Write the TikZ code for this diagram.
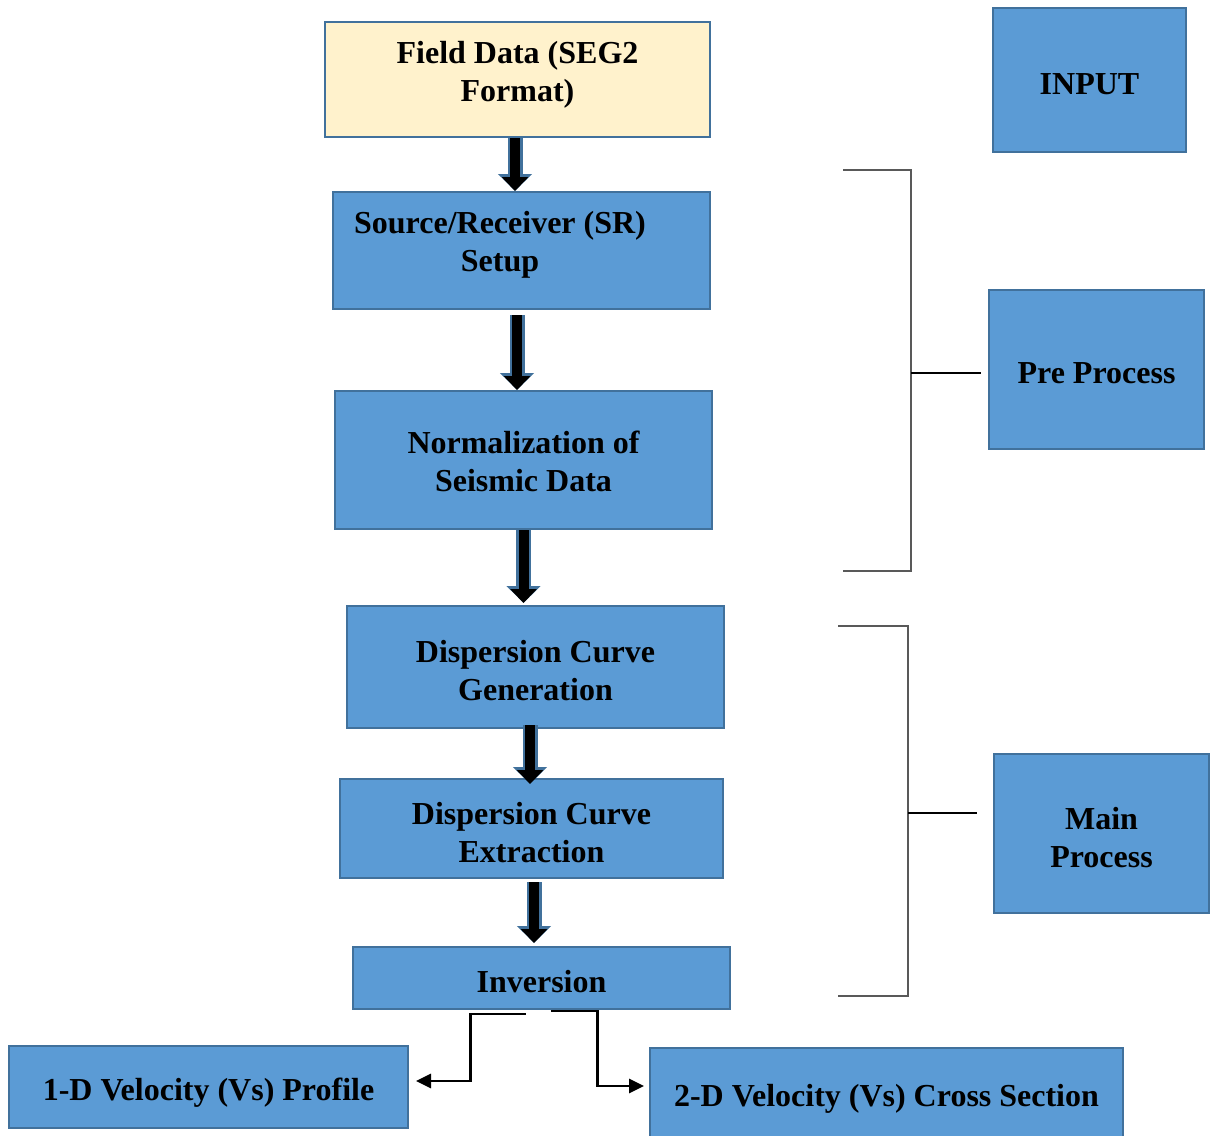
\documentclass[tikz,border=0pt]{standalone}
\usepackage{fontspec}
\setmainfont{Liberation Serif}
\definecolor{boxblue}{HTML}{5B9BD5}
\definecolor{boxline}{HTML}{41719C}
\definecolor{cream}{HTML}{FFF2CC}
\definecolor{brackgray}{HTML}{595959}
\usetikzlibrary{calc, positioning, arrows.meta}

\tikzset{
  txt/.style={font=\bfseries\fontsize{16}{19}\selectfont, align=center, text=black},
  box/.style={draw=boxline, line width=1pt, fill=boxblue, inner sep=0pt},
  lbl/.style={label={[txt, yshift=-2pt]center:{#1}}},
  blkout/.style={boxline, line width=7.5pt, -{Triangle[width=16.5pt, length=8.5pt]}},
  blkin/.style={black, line width=5pt, -{Triangle[width=13pt, length=7pt]}},
  brack/.style={brackgray, line width=0.8pt},
  tick/.style={black, line width=1.3pt},
  outarrow/.style={black, line width=1.4pt, -{Triangle[width=7pt, length=7.5pt]}}
}

\begin{document}
\begin{tikzpicture}[x=0.5pt, y=-0.5pt]
\useasboundingbox (0,0) rectangle (1213,1135);

% Flow boxes
\node[box, fill=cream, minimum width=192.5pt, minimum height=57.5pt,
  label={[txt, yshift=2.25pt]center:{Field Data (SEG2\\Format)}}] (fd) at (517.5, 79.5) {};
\node[box, minimum width=188.5pt, minimum height=58.5pt,
  label={[txt, xshift=-10.75pt, yshift=2.75pt]center:{Source/Receiver (SR)\\Setup}}] (sr) at (521.5, 250.5) {};
\node[box, minimum width=188.5pt, minimum height=69pt,
  label={[txt, yshift=-0.5pt]center:{Normalization of\\Seismic Data}}] (norm) at (523.5, 460) {};
\node[box, minimum width=188.5pt, minimum height=61pt, lbl={Dispersion Curve\\Generation}] (gen) at (535.5, 667) {};
\node[box, minimum width=191.5pt, minimum height=49.5pt, lbl={Dispersion Curve\\Extraction}] (ext) at (531.5, 828.5) {};
\node[box, minimum width=188.5pt, minimum height=31pt, lbl={Inversion}] (inv) at (541.5, 978) {};
\node[box, minimum width=199.5pt, minimum height=41pt,
  label={[txt, yshift=-3pt]center:{1-D Velocity (Vs) Profile}}] (vel1) at (208.5, 1087) {};
\node[box, minimum width=236.5pt, minimum height=46pt,
  label={[txt, yshift=-2.5pt]center:{2-D Velocity (Vs) Cross Section}}] (vel2) at (886.5, 1094) {};

% Stage boxes
\node[box, minimum width=96.5pt, minimum height=72pt, lbl={INPUT}] (inp) at (1089.5, 80) {};
\node[box, minimum width=107.5pt, minimum height=79.5pt, lbl={Pre Process}] (pre) at (1096.5, 369.5) {};
\node[box, minimum width=107.5pt, minimum height=79.5pt, lbl={Main\\Process}] (mainp) at (1101.5, 833.5) {};

% Block arrows down the flow
\foreach \a/\b/\dx/\sy/\ey in {fd/sr/-1.25/0/0, sr/norm/-2.25/-2.5/0, norm/gen/0/0/1,
                                gen/ext/-2.75/2/-3, ext/inv/1.25/-1.5/1.5}{
  \path ([xshift=\dx pt, yshift=\sy pt]\a.south) coordinate (s)
        ([yshift=\ey pt]\b.north) coordinate (e);
  \draw[blkout] (s) -- (s |- e);
  \draw[blkin] (s) -- (s |- e);
}

% Brackets
\coordinate (pretop) at (843, 170);
\coordinate (premid) at (911, 373);
\coordinate (prebot) at (843, 571);
\draw[brack] (pretop) -- (premid |- pretop) -- (premid |- prebot) -- (prebot);
\draw[tick] (premid) -- ([xshift=-3.5pt]pre.west |- premid);

\coordinate (maintop) at (838, 626);
\coordinate (mainmid) at (908, 813);
\coordinate (mainbot) at (838, 996);
\draw[brack] (maintop) -- (mainmid |- maintop) -- (mainmid |- mainbot) -- (mainbot);
\draw[tick] (mainmid) -- ([xshift=-8pt]mainp.west |- mainmid);

% Outputs of inversion
\draw[outarrow] ([xshift=-8pt, yshift=-2pt]inv.south) -- ++(-55, 0) |- ([xshift=3.5pt, yshift=3pt]vel1.east);
\draw[outarrow] ([xshift=4.5pt, yshift=-0.5pt]inv.south) -- ++(47, 0) |- ([xshift=-2.5pt, yshift=4pt]vel2.west);

\end{tikzpicture}
\end{document}
